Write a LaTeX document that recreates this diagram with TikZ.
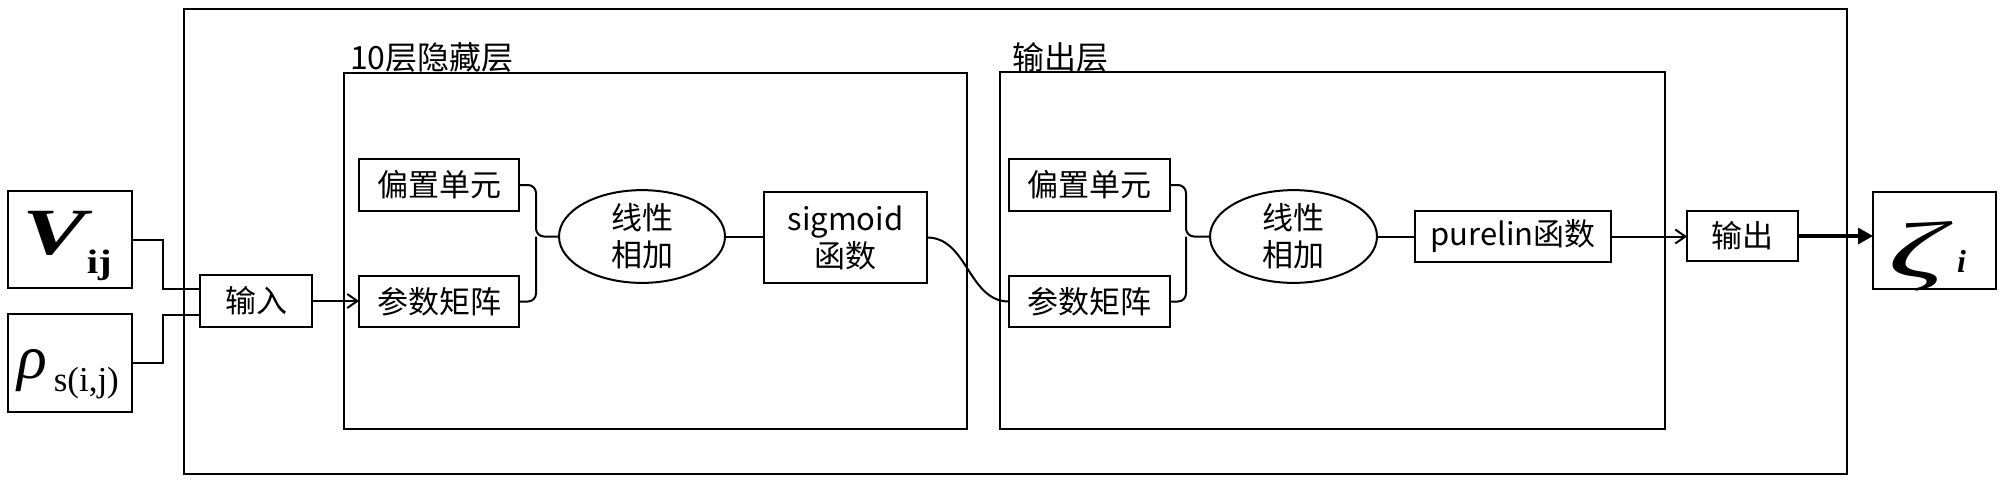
\documentclass[tikz,border=0pt]{standalone}
\usepackage{fontspec}
\setmainfont{Liberation Sans}
\newfontfamily\cjk{Noto Sans CJK SC}
\newfontfamily\tnr{Liberation Serif}
\usetikzlibrary{shapes.geometric,arrows.meta}
\begin{document}
\begin{tikzpicture}[x=0.5pt,y=-0.5pt,
  every node/.style={inner sep=0pt, outer sep=0pt},
  frame/.style={draw, line width=1pt},
  box/.style={draw, line width=1pt, font=\cjk\fontsize{15.5}{18.5}\selectfont, align=center},
  lab/.style={font=\cjk\fontsize{16}{19}\selectfont},
  conn/.style={line width=1pt},
  openarr/.style={conn, -{Straight Barb[length=5pt,width=7pt]}},
  thickarr/.style={line width=1.6pt, -{Triangle[length=7.5pt,width=8pt]}}
]
\useasboundingbox (0,0) rectangle (2000,484);

% frames
\node[frame, minimum width=831.5pt, minimum height=232.5pt] (outer) at (1015.5,241.5) {};
\node[frame, minimum width=311.5pt, minimum height=178pt] (hid) at (655.5,251) {};
\node[frame, minimum width=332.5pt, minimum height=178.5pt] (outl) at (1332.5,250.5) {};
\node[lab, anchor=base west] (hidlab) at (350,69) {10层隐藏层};
\node[lab, anchor=base west] (outlab) at (1012,69) {输出层};

% inputs
\node[frame, minimum width=62pt, minimum height=48.5pt] (vij) at (70,239.5) {};
\node[anchor=base west] (vV) at (22,254) {{\tnr\bfseries\itshape\fontsize{33}{33}\selectfont\scalebox{1.45}[1]{V}}\kern0.5pt\raisebox{-9.5pt}{\tnr\bfseries\fontsize{17}{17}\selectfont\scalebox{1.2}[1]{ij}}};
\node[frame, minimum width=62pt, minimum height=49pt] (rho) at (70,363) {};
\node[anchor=base west] (rR) at (18,378) {{\tnr\itshape\fontsize{31}{31}\selectfont ρ}\kern3pt\raisebox{-6.5pt}{\tnr\fontsize{17.5}{17.5}\selectfont s(i,j)}};

\node[box, minimum width=56pt, minimum height=26pt] (inp) at (256,301) {输入};

% hidden layer
\node[box, minimum width=80pt, minimum height=26pt] (hb) at (439,185) {偏置单元};
\node[box, minimum width=80pt, minimum height=25.5pt] (hp) at (439,301.5) {参数矩阵};
\node[box, ellipse, minimum width=83pt, minimum height=38.5pt] (he) at (642,236.5) {线性\\相加};
\node[box, minimum width=81.5pt, minimum height=45.5pt] (hs) at (845.5,237.5) {sigmoid\\函数};
\coordinate (hj) at (536,236.5);

% output layer
\node[box, minimum width=80.5pt, minimum height=26pt] (ob) at (1089.5,185) {偏置单元};
\node[box, minimum width=80.5pt, minimum height=25.5pt] (op) at (1089.5,301.5) {参数矩阵};
\node[box, ellipse, minimum width=83.5pt, minimum height=38.5pt] (oe) at (1293.5,236.5) {线性\\相加};
\node[box, minimum width=98pt, minimum height=25.5pt] (opl) at (1513,236.5) {purelin函数};
\coordinate (oj) at (1186,236.5);

% output
\node[box, minimum width=55.5pt, minimum height=25pt] (outp) at (1742.5,236) {输出};
\node[frame, minimum width=61.5pt, minimum height=48.5pt] (zb) at (1934.5,240.5) {};
\node[anchor=base west] (zZ) at (1888,277) {\tnr\itshape\fontsize{40}{40}\selectfont\scalebox{1.75}[1]{ζ}};
\node[anchor=base west] (zS) at (1957,272) {\tnr\bfseries\itshape\fontsize{16}{16}\selectfont i};

% connectors
\draw[conn] (vij.east) -- ++(15.5pt,0) |- ([yshift=6pt]inp.west);
\draw[conn] (rho.east) -- ++(15.5pt,0) |- ([yshift=-7pt]inp.west);
\draw[openarr] (inp.east) -- (inp.east -| hp.west);
\draw[conn, rounded corners=4pt] (hb.east) -| (hj) -- (he.west);
\draw[conn, rounded corners=4pt] (hp.east) -| (hj);
\draw[conn] (he.east) -- (he.east -| hs.west);
\draw[conn] (hs.east) to[out=0,in=180] (op.west);
\draw[conn, rounded corners=4pt] (ob.east) -| (oj) -- (oe.west);
\draw[conn, rounded corners=4pt] (op.east) -| (oj);
\draw[conn] (oe.east) -- (oe.east -| opl.west);
\draw[openarr] (opl.east) -- (opl.east -| outp.west);
\draw[thickarr] (outp.east) -- (outp.east -| zb.west);
\end{tikzpicture}
\end{document}
